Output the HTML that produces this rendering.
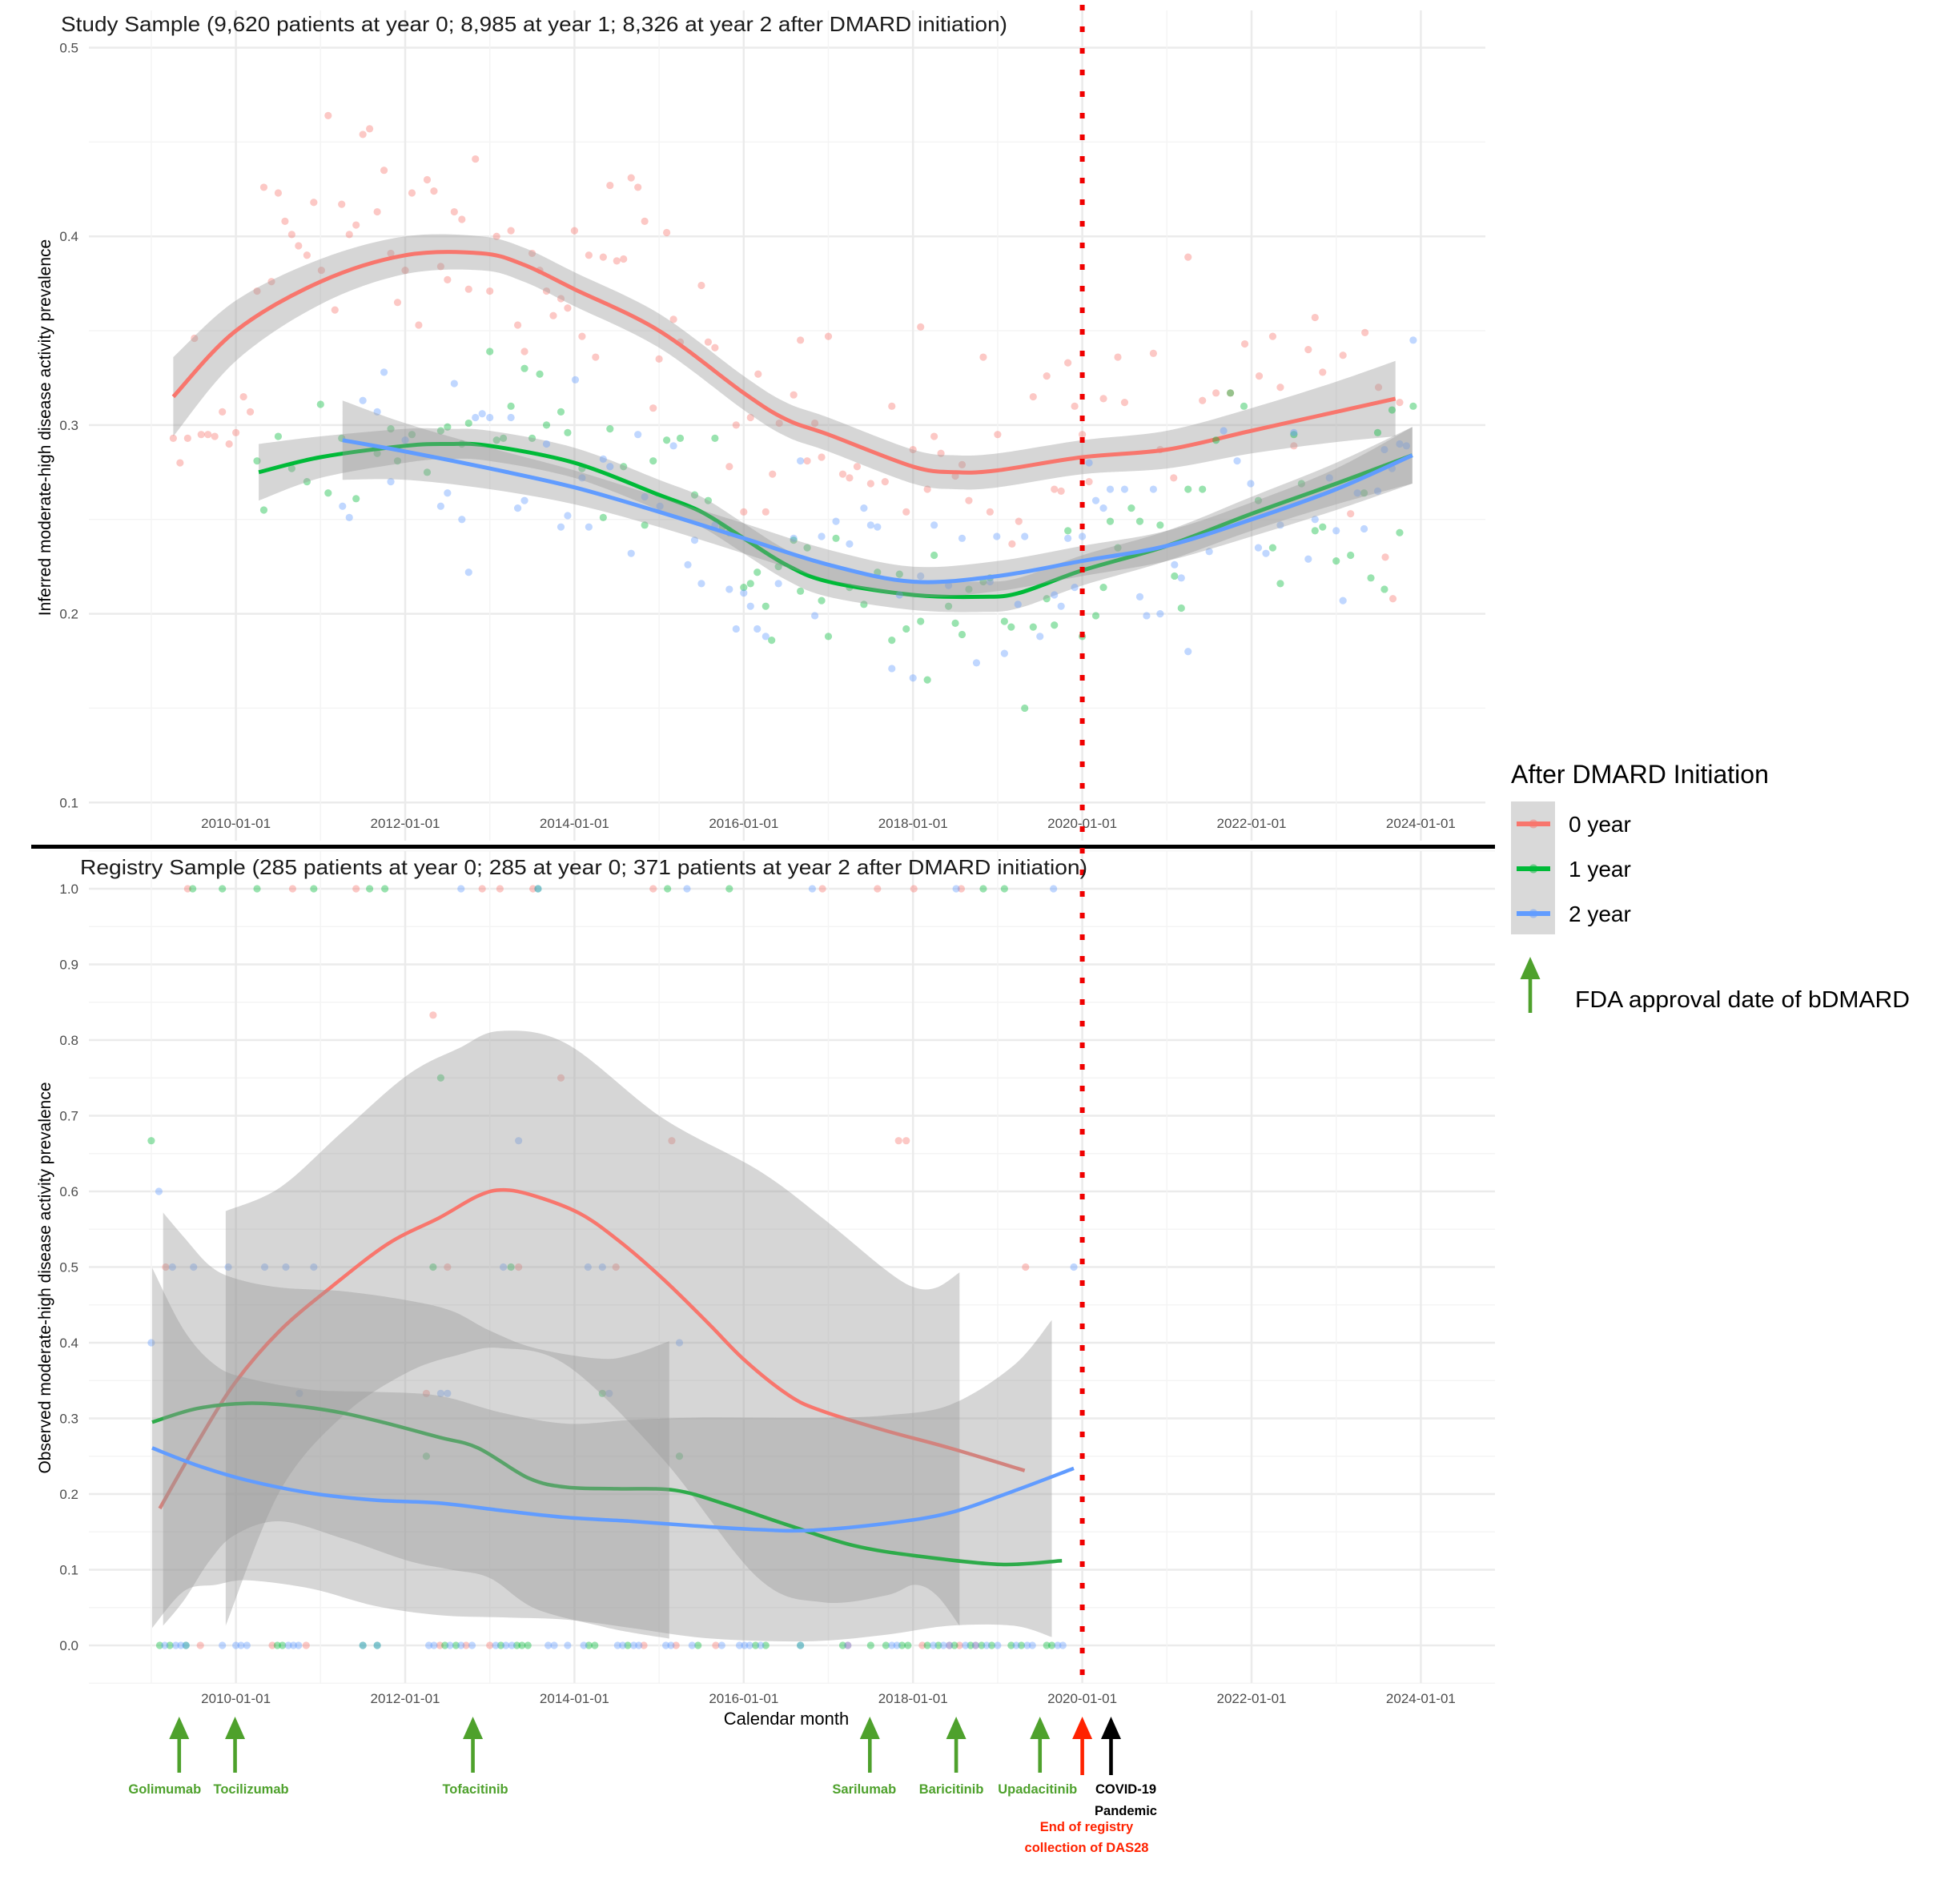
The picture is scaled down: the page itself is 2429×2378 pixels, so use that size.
<!DOCTYPE html>
<html><head><meta charset="utf-8">
<style>
html,body{margin:0;padding:0;background:#fff;}
svg{display:block;font-family:"Liberation Sans",Arial,sans-serif;}
</style></head>
<body>
<svg id="chart" width="2429" height="2378" viewBox="0 0 2429 2378" xmlns="http://www.w3.org/2000/svg"></svg>
<script>
// ---------- DATA ----------
const topTicksY = [0.1,0.2,0.3,0.4,0.5];
const xTickYears = [2010,2012,2014,2016,2018,2020,2022,2024];
const botTicksY = [0.0,0.1,0.2,0.3,0.4,0.5,0.6,0.7,0.8,0.9,1.0];

// top panel smooth fits [year, value]
const topRedFitYear = [2009.26,2010,2011,2012,2012.9,2013.4,2014,2015,2016,2016.5,2017,2018,2018.5,2019,2020,2021,2022,2023,2023.7];
const topRedFitVal  = [0.315,0.350,0.376,0.390,0.391,0.385,0.372,0.350,0.317,0.303,0.295,0.278,0.275,0.276,0.283,0.287,0.297,0.307,0.314];
const topRedFitSE   = [0.021,0.016,0.012,0.010,0.009,0.009,0.009,0.009,0.009,0.009,0.009,0.009,0.009,0.009,0.009,0.010,0.012,0.016,0.020];
const topGreenFitYear = [2010.27,2011,2012,2012.5,2013,2014,2015,2015.5,2016,2016.5,2017,2018,2018.8,2019.25,2020,2021,2022,2023,2023.9];
const topGreenFitVal  = [0.275,0.283,0.289,0.290,0.289,0.280,0.263,0.254,0.240,0.226,0.217,0.210,0.209,0.211,0.223,0.236,0.253,0.269,0.284];
const topGreenFitSE   = [0.015,0.011,0.009,0.008,0.008,0.008,0.008,0.008,0.008,0.008,0.008,0.008,0.008,0.008,0.008,0.008,0.009,0.011,0.015];
const topBlueFitYear = [2011.26,2012,2013,2014,2015,2016,2017,2018,2019,2020,2021,2022,2023,2023.9];
const topBlueFitVal  = [0.292,0.286,0.277,0.267,0.254,0.240,0.226,0.217,0.220,0.228,0.236,0.250,0.266,0.284];
const topBlueFitSE   = [0.021,0.015,0.011,0.009,0.008,0.008,0.008,0.008,0.008,0.008,0.008,0.009,0.011,0.015];

// top panel monthly points [year, value]
const topRedPts = [[2009.26,0.293],[2009.34,0.280],[2009.43,0.293],[2009.51,0.346],[2009.59,0.295],[2009.67,0.295],[2009.75,0.294],[2009.84,0.307],[2009.92,0.290],[2010,0.296],[2010.09,0.315],[2010.17,0.307],[2010.25,0.371],[2010.33,0.426],[2010.42,0.376],[2010.5,0.423],[2010.58,0.408],[2010.66,0.401],[2010.74,0.395],[2010.84,0.390],[2010.92,0.418],[2011.01,0.382],[2011.09,0.464],[2011.17,0.361],[2011.25,0.417],[2011.34,0.401],[2011.42,0.406],[2011.5,0.454],[2011.58,0.457],[2011.67,0.413],[2011.75,0.435],[2011.83,0.391],[2011.91,0.365],[2012,0.382],[2012.08,0.423],[2012.16,0.353],[2012.26,0.430],[2012.34,0.424],[2012.42,0.384],[2012.5,0.377],[2012.58,0.413],[2012.67,0.409],[2012.75,0.372],[2012.83,0.441],[2013,0.371],[2013.08,0.400],[2013.25,0.403],[2013.33,0.353],[2013.41,0.339],[2013.5,0.391],[2013.59,0.382],[2013.67,0.371],[2013.75,0.358],[2013.84,0.367],[2013.92,0.362],[2014,0.403],[2014.09,0.347],[2014.17,0.390],[2014.25,0.336],[2014.34,0.389],[2014.42,0.427],[2014.5,0.387],[2014.58,0.388],[2014.67,0.431],[2014.75,0.426],[2014.83,0.408],[2014.93,0.309],[2015,0.335],[2015.09,0.402],[2015.17,0.356],[2015.25,0.344],[2015.5,0.374],[2015.58,0.344],[2015.66,0.341],[2015.83,0.278],[2015.91,0.300],[2016,0.254],[2016.08,0.304],[2016.17,0.327],[2016.26,0.254],[2016.34,0.274],[2016.42,0.301],[2016.59,0.316],[2016.67,0.345],[2016.75,0.281],[2016.84,0.301],[2016.92,0.283],[2017,0.347],[2017.17,0.274],[2017.25,0.272],[2017.34,0.278],[2017.5,0.269],[2017.67,0.270],[2017.75,0.310],[2017.92,0.254],[2018,0.287],[2018.09,0.352],[2018.17,0.266],[2018.25,0.294],[2018.33,0.285],[2018.5,0.273],[2018.58,0.279],[2018.66,0.260],[2018.83,0.336],[2018.91,0.254],[2019,0.295],[2019.17,0.237],[2019.25,0.249],[2019.42,0.315],[2019.58,0.326],[2019.67,0.266],[2019.75,0.265],[2019.83,0.333],[2019.91,0.310],[2020,0.295],[2020.08,0.270],[2020.25,0.314],[2020.42,0.336],[2020.5,0.312],[2020.84,0.338],[2020.92,0.287],[2021.08,0.272],[2021.25,0.389],[2021.42,0.313],[2021.58,0.317],[2021.75,0.317],[2021.92,0.343],[2022.09,0.326],[2022.25,0.347],[2022.34,0.320],[2022.5,0.289],[2022.67,0.340],[2022.75,0.357],[2022.84,0.328],[2023.08,0.337],[2023.17,0.253],[2023.34,0.349],[2023.5,0.320],[2023.58,0.230],[2023.67,0.208],[2023.75,0.312]];
const topGreenPts = [[2010.25,0.281],[2010.33,0.255],[2010.50,0.294],[2010.66,0.277],[2010.84,0.270],[2011.00,0.311],[2011.09,0.264],[2011.25,0.293],[2011.42,0.261],[2011.67,0.285],[2011.83,0.298],[2011.91,0.281],[2012.08,0.295],[2012.26,0.275],[2012.42,0.297],[2012.50,0.299],[2012.67,0.290],[2012.75,0.301],[2013.00,0.339],[2013.08,0.292],[2013.16,0.293],[2013.25,0.310],[2013.41,0.330],[2013.50,0.293],[2013.59,0.327],[2013.67,0.300],[2013.84,0.307],[2013.92,0.296],[2014.09,0.277],[2014.34,0.251],[2014.42,0.298],[2014.58,0.278],[2014.83,0.247],[2014.93,0.281],[2015.09,0.292],[2015.25,0.293],[2015.42,0.263],[2015.58,0.260],[2015.66,0.293],[2015.75,0.246],[2015.83,0.243],[2016.00,0.214],[2016.08,0.216],[2016.16,0.222],[2016.26,0.204],[2016.33,0.186],[2016.41,0.225],[2016.59,0.239],[2016.67,0.212],[2016.75,0.235],[2016.92,0.207],[2017.00,0.188],[2017.09,0.240],[2017.25,0.214],[2017.42,0.205],[2017.58,0.222],[2017.75,0.186],[2017.84,0.221],[2017.92,0.192],[2018.09,0.196],[2018.17,0.165],[2018.25,0.231],[2018.42,0.204],[2018.50,0.195],[2018.58,0.189],[2018.66,0.213],[2018.83,0.217],[2018.91,0.219],[2019.08,0.196],[2019.16,0.193],[2019.32,0.150],[2019.42,0.193],[2019.58,0.208],[2019.67,0.194],[2019.83,0.244],[2020.00,0.188],[2020.16,0.199],[2020.25,0.214],[2020.33,0.249],[2020.42,0.235],[2020.58,0.256],[2020.68,0.249],[2020.92,0.247],[2021.09,0.220],[2021.17,0.203],[2021.25,0.266],[2021.42,0.266],[2021.58,0.292],[2021.75,0.317],[2021.91,0.310],[2022.08,0.260],[2022.25,0.235],[2022.34,0.216],[2022.50,0.295],[2022.59,0.269],[2022.75,0.244],[2022.84,0.246],[2023.00,0.228],[2023.17,0.231],[2023.33,0.264],[2023.41,0.219],[2023.49,0.296],[2023.57,0.213],[2023.66,0.308],[2023.75,0.243],[2023.91,0.310]];
const topBluePts = [[2011.26,0.257],[2011.34,0.251],[2011.50,0.313],[2011.67,0.307],[2011.75,0.328],[2011.83,0.270],[2012.00,0.292],[2012.42,0.257],[2012.50,0.264],[2012.58,0.322],[2012.67,0.250],[2012.75,0.222],[2012.83,0.304],[2012.91,0.306],[2013.00,0.304],[2013.25,0.304],[2013.33,0.256],[2013.41,0.260],[2013.67,0.290],[2013.84,0.246],[2013.92,0.252],[2014.01,0.324],[2014.09,0.272],[2014.17,0.246],[2014.34,0.282],[2014.42,0.278],[2014.67,0.232],[2014.75,0.295],[2014.83,0.262],[2015.01,0.257],[2015.17,0.289],[2015.34,0.226],[2015.42,0.239],[2015.50,0.216],[2015.66,0.247],[2015.83,0.213],[2015.91,0.192],[2016.00,0.211],[2016.08,0.204],[2016.16,0.192],[2016.26,0.188],[2016.41,0.216],[2016.59,0.240],[2016.67,0.281],[2016.84,0.199],[2016.92,0.241],[2017.09,0.249],[2017.25,0.237],[2017.42,0.256],[2017.50,0.247],[2017.58,0.246],[2017.75,0.171],[2017.84,0.210],[2018.00,0.166],[2018.09,0.220],[2018.25,0.247],[2018.42,0.215],[2018.58,0.240],[2018.75,0.174],[2018.91,0.217],[2018.99,0.241],[2019.08,0.179],[2019.24,0.205],[2019.32,0.241],[2019.50,0.188],[2019.67,0.210],[2019.75,0.204],[2019.83,0.240],[2019.91,0.214],[2020.00,0.241],[2020.08,0.280],[2020.16,0.260],[2020.25,0.256],[2020.33,0.266],[2020.50,0.266],[2020.68,0.209],[2020.76,0.199],[2020.84,0.266],[2020.92,0.200],[2021.09,0.226],[2021.17,0.219],[2021.25,0.180],[2021.50,0.233],[2021.67,0.297],[2021.83,0.281],[2021.99,0.269],[2022.08,0.235],[2022.17,0.232],[2022.34,0.247],[2022.50,0.296],[2022.67,0.229],[2022.75,0.250],[2022.92,0.272],[2023.00,0.244],[2023.08,0.207],[2023.25,0.264],[2023.33,0.245],[2023.49,0.265],[2023.57,0.287],[2023.66,0.277],[2023.75,0.290],[2023.83,0.289],[2023.91,0.345]];

// bottom panel smooth fits
const botRedFitYear = [2009.10,2009.54,2009.99,2010.52,2011.12,2011.80,2012.40,2012.86,2013.16,2013.53,2014.06,2014.51,2015.04,2015.57,2016.02,2016.54,2016.92,2017.67,2018.43,2019.32];
const botRedFitVal  = [0.181,0.267,0.347,0.416,0.473,0.531,0.565,0.594,0.602,0.594,0.571,0.536,0.485,0.427,0.376,0.330,0.310,0.284,0.261,0.231];
const botGreenFitYear = [2009.01,2009.54,2010.14,2010.74,2011.27,2011.80,2012.40,2012.86,2013.46,2013.91,2014.51,2015.19,2015.80,2016.55,2017.30,2018.06,2019.04,2019.76];
const botGreenFitVal  = [0.295,0.313,0.320,0.316,0.307,0.293,0.275,0.261,0.221,0.209,0.207,0.205,0.186,0.158,0.132,0.118,0.107,0.112];
const botBlueFitYear = [2009.01,2009.54,2010.14,2010.90,2011.65,2012.40,2013.16,2013.91,2014.67,2015.42,2016.18,2016.78,2017.67,2018.43,2019.19,2019.90];
const botBlueFitVal  = [0.261,0.238,0.218,0.201,0.192,0.188,0.178,0.169,0.164,0.158,0.153,0.152,0.161,0.175,0.204,0.234];

// bottom panel confidence bands
const bandRedYear  = [2009.88,2010.52,2011.27,2012.03,2012.63,2013.12,2013.91,2015.04,2016.17,2016.93,2017.68,2018.02,2018.28,2018.55];
const bandRedUpper = [0.574,0.605,0.680,0.754,0.789,0.812,0.795,0.697,0.628,0.565,0.496,0.473,0.473,0.493];
const bandRedLower = [0.026,0.204,0.304,0.361,0.384,0.393,0.370,0.247,0.089,0.057,0.066,0.080,0.066,0.026];
const bandGreenYear  = [2009.01,2009.39,2009.76,2010.14,2010.89,2011.65,2012.40,2013.16,2013.91,2014.67,2015.42,2016.17,2016.93,2017.68,2018.44,2019.19,2019.64];
const bandGreenUpper = [0.499,0.416,0.370,0.353,0.338,0.335,0.330,0.307,0.293,0.298,0.301,0.301,0.301,0.304,0.318,0.370,0.430];
const bandGreenLower = [0.023,0.072,0.080,0.086,0.075,0.052,0.040,0.037,0.034,0.023,0.011,0.006,0.006,0.014,0.026,0.026,0.011];
const bandBlueYear  = [2009.14,2009.39,2009.69,2009.99,2010.52,2011.27,2012.03,2012.55,2013.00,2013.53,2014.29,2014.67,2015.12];
const bandBlueUpper = [0.572,0.539,0.502,0.485,0.473,0.468,0.456,0.442,0.416,0.393,0.379,0.384,0.402];
const bandBlueLower = [0.026,0.060,0.112,0.146,0.164,0.141,0.112,0.100,0.089,0.049,0.026,0.017,0.009];

// bottom panel points [year, value]
const botRedPts = [[2009.43,1],[2010.67,1],[2011.42,1],[2012.91,1],[2013.12,1],[2013.51,1],[2014.93,1],[2016.93,1],[2017.58,1],[2018.01,1],[2018.57,1],[2012.33,0.833],[2013.84,0.75],[2015.15,0.667],[2017.83,0.667],[2017.92,0.667],[2009.17,0.5],[2012.50,0.5],[2013.34,0.5],[2014.49,0.5],[2019.33,0.5],[2012.25,0.333],[2009.58,0],[2010.43,0],[2010.83,0],[2012.41,0],[2012.72,0],[2013.00,0],[2014.82,0],[2015.20,0],[2015.67,0],[2017.23,0],[2018.11,0],[2018.43,0],[2018.55,0],[2018.74,0]];
const botGreenPts = [[2009.49,1],[2009.84,1],[2010.25,1],[2010.92,1],[2011.58,1],[2011.76,1],[2013.57,1],[2015.10,1],[2015.83,1],[2018.83,1],[2019.08,1],[2012.42,0.75],[2009.0,0.667],[2012.33,0.5],[2013.25,0.5],[2014.33,0.333],[2012.25,0.25],[2015.24,0.25],[2009.10,0],[2009.22,0],[2009.41,0],[2010.49,0],[2010.55,0],[2011.50,0],[2011.67,0],[2012.47,0],[2012.60,0],[2013.13,0],[2013.32,0],[2013.38,0],[2013.45,0],[2014.17,0],[2014.24,0],[2014.63,0],[2015.46,0],[2016.14,0],[2016.26,0],[2016.67,0],[2017.17,0],[2017.50,0],[2017.68,0],[2017.87,0],[2017.94,0],[2018.17,0],[2018.30,0],[2018.49,0],[2018.68,0],[2018.81,0],[2018.93,0],[2019.16,0],[2019.28,0],[2019.58,0],[2019.64,0]];
const botBluePts = [[2012.66,1],[2013.57,1],[2015.33,1],[2016.81,1],[2018.51,1],[2019.66,1],[2013.34,0.667],[2009.09,0.6],[2009.25,0.5],[2009.50,0.5],[2009.91,0.5],[2010.34,0.5],[2010.59,0.5],[2010.92,0.5],[2013.16,0.5],[2014.16,0.5],[2014.33,0.5],[2019.90,0.5],[2009.0,0.4],[2015.24,0.4],[2010.75,0.333],[2012.42,0.333],[2012.50,0.333],[2014.41,0.333],[2009.16,0],[2009.29,0],[2009.35,0],[2009.41,0],[2009.84,0],[2010.0,0],[2010.06,0],[2010.13,0],[2010.62,0],[2010.68,0],[2010.74,0],[2011.50,0],[2011.67,0],[2012.28,0],[2012.34,0],[2012.53,0],[2012.66,0],[2012.79,0],[2013.07,0],[2013.19,0],[2013.26,0],[2013.69,0],[2013.76,0],[2013.92,0],[2014.11,0],[2014.51,0],[2014.57,0],[2014.70,0],[2014.76,0],[2015.08,0],[2015.14,0],[2015.39,0],[2015.74,0],[2015.95,0],[2016.01,0],[2016.07,0],[2016.20,0],[2016.67,0],[2017.23,0],[2017.75,0],[2017.81,0],[2018.24,0],[2018.36,0],[2018.43,0],[2018.62,0],[2018.74,0],[2018.87,0],[2019.00,0],[2019.22,0],[2019.35,0],[2019.41,0],[2019.71,0],[2019.77,0]];

// FDA approvals
const drugNames = ["Golimumab","Tocilizumab","Tofacitinib","Sarilumab","Baricitinib","Upadacitinib"];
const drugYears = [2009.33,2009.99,2012.80,2017.49,2018.51,2019.50];
const registryEndYear = 2020.0;
const covidYear = 2020.33;

// ---------- SCALES ----------
const X0 = 294.6, XPY = 105.7;
const x = yr => X0 + (yr - 2010) * XPY;
const yT = v => 59.5 + (0.5 - v) * 2357;
const yB = v => 1110 + (1 - v) * 945;
const RED = "#F8766D", GREEN = "#00BA38", BLUE = "#619CFF";
const svg = document.getElementById('chart');
const NS = "http://www.w3.org/2000/svg";
function mk(tag, parent){ const e = document.createElementNS(NS, tag); (parent||svg).appendChild(e); return e; }
function segs(p){ let d=''; for(let i=0;i<p.length-1;i++){ const p0=p[i-1]||p[i], p1=p[i], p2=p[i+1], p3=p[i+2]||p2;
  d += ` C${(p1[0]+(p2[0]-p0[0])/6).toFixed(1)},${(p1[1]+(p2[1]-p0[1])/6).toFixed(1)} ${(p2[0]-(p3[0]-p1[0])/6).toFixed(1)},${(p2[1]-(p3[1]-p1[1])/6).toFixed(1)} ${p2[0].toFixed(1)},${p2[1].toFixed(1)}`; } return d; }
function smooth(p){ return `M${p[0][0].toFixed(1)},${p[0][1].toFixed(1)}` + segs(p); }
function band(up, lo){ const l = lo.slice().reverse(); return smooth(up) + ` L${l[0][0].toFixed(1)},${l[0][1].toFixed(1)}` + segs(l) + ' Z'; }

// ---------- GRID ----------
const gTop = mk('g');


for (let v=0.1; v<=0.5001; v+=0.05){
  const major = Math.abs(v*10-Math.round(v*10))<0.01;
  const l = mk('line', gTop);
  
  
  l.setAttribute('x1',111); l.setAttribute('x2',1855); l.setAttribute('y1',yT(v)); l.setAttribute('y2',yT(v));
  l.setAttribute('stroke', major ? '#ebebeb' : '#f4f4f4'); l.setAttribute('stroke-width', major ? 2.5 : 1.4);
}
for (let yr=2009; yr<=2024; yr++){
  const major = yr%2===0;
  const l = mk('line', gTop);
  
  
  l.setAttribute('x1',x(yr)); l.setAttribute('x2',x(yr)); l.setAttribute('y1',13); l.setAttribute('y2',1050);
  l.setAttribute('stroke', major ? '#ebebeb' : '#f4f4f4'); l.setAttribute('stroke-width', major ? 2.5 : 1.4);
}
const gBot = mk('g');


for (let v=-0.05; v<=1.0501; v+=0.05){
  const major = Math.abs(v*10-Math.round(v*10))<0.01 && v>-0.01 && v<1.01;
  const l = mk('line', gBot);
  
  
  l.setAttribute('x1',111); l.setAttribute('x2',1867); l.setAttribute('y1',yB(v)); l.setAttribute('y2',yB(v));
  l.setAttribute('stroke', major ? '#ebebeb' : '#f4f4f4'); l.setAttribute('stroke-width', major ? 2.5 : 1.4);
}
for (let yr=2009; yr<=2024; yr++){
  const major = yr%2===0;
  const l = mk('line', gBot);
  
  
  l.setAttribute('x1',x(yr)); l.setAttribute('x2',x(yr)); l.setAttribute('y1',1063); l.setAttribute('y2',2102);
  l.setAttribute('stroke', major ? '#ebebeb' : '#f4f4f4'); l.setAttribute('stroke-width', major ? 2.5 : 1.4);
}

// ---------- TICK LABELS ----------
topTicksY.forEach(v=>{
  const t = mk('text');
  
  
  t.setAttribute('x',98); t.setAttribute('y',yT(v)+6); t.setAttribute('text-anchor','end');
  t.setAttribute('font-size',17); t.setAttribute('fill','#4d4d4d'); t.textContent = v.toFixed(1);
});
botTicksY.forEach(v=>{
  const t = mk('text');
  
  
  t.setAttribute('x',98); t.setAttribute('y',yB(v)+6); t.setAttribute('text-anchor','end');
  t.setAttribute('font-size',17); t.setAttribute('fill','#4d4d4d'); t.textContent = v.toFixed(1);
});
xTickYears.forEach(yr=>{
  const t = mk('text');
  
  
  t.setAttribute('x',x(yr)); t.setAttribute('y',1034); t.setAttribute('text-anchor','middle');
  t.setAttribute('font-size',17); t.setAttribute('fill','#4d4d4d'); t.textContent = yr+'-01-01';
  const b = mk('text');
  
  
  b.setAttribute('x',x(yr)); b.setAttribute('y',2127); b.setAttribute('text-anchor','middle');
  b.setAttribute('font-size',17); b.setAttribute('fill','#4d4d4d'); b.textContent = yr+'-01-01';
});

// ---------- TOP PANEL SERIES ----------
function topSeries(name, yrs, vals, se, pts, col){
  const g = mk('g');
  
  
  pts.forEach(p=>{
    const c = mk('circle', g);
    
    
    c.setAttribute('cx',x(p[0])); c.setAttribute('cy',yT(p[1])); c.setAttribute('r',4.6);
    c.setAttribute('fill',col); c.setAttribute('fill-opacity',0.4);
  });
  const up = yrs.map((yr,i)=>[x(yr), yT(vals[i]+se[i])]);
  const lo = yrs.map((yr,i)=>[x(yr), yT(vals[i]-se[i])]);
  const r = mk('path', g);
  
  
  r.setAttribute('d', band(up, lo)); r.setAttribute('fill','#999999'); r.setAttribute('fill-opacity',0.4);
  const l = mk('path', g);
  
  
  l.setAttribute('d', smooth(yrs.map((yr,i)=>[x(yr), yT(vals[i])])));
  l.setAttribute('fill','none'); l.setAttribute('stroke',col); l.setAttribute('stroke-width',5);
}
topSeries('0-year', topRedFitYear, topRedFitVal, topRedFitSE, topRedPts, RED);
topSeries('1-year', topGreenFitYear, topGreenFitVal, topGreenFitSE, topGreenPts, GREEN);
topSeries('2-year', topBlueFitYear, topBlueFitVal, topBlueFitSE, topBluePts, BLUE);

// ---------- BOTTOM PANEL SERIES ----------
function botPoints(name, pts, col){
  const g = mk('g');
  
  
  pts.forEach(p=>{
    const c = mk('circle', g);
    
    
    c.setAttribute('cx',x(p[0])); c.setAttribute('cy',yB(p[1])); c.setAttribute('r',4.6);
    c.setAttribute('fill',col); c.setAttribute('fill-opacity',0.4);
  });
}
function botBand(name, yrs, upv, lov){
  const up = yrs.map((yr,i)=>[x(yr), yB(upv[i])]);
  const lo = yrs.map((yr,i)=>[x(yr), yB(lov[i])]);
  const r = mk('path');
  
  
  r.setAttribute('d', band(up, lo)); r.setAttribute('fill','#999999'); r.setAttribute('fill-opacity',0.4);
}
function botLine(name, yrs, vals, col){
  const l = mk('path');
  
  
  l.setAttribute('d', smooth(yrs.map((yr,i)=>[x(yr), yB(vals[i])])));
  l.setAttribute('fill','none'); l.setAttribute('stroke',col); l.setAttribute('stroke-width',4.5);
}
botPoints('0-year', botRedPts, RED);
botPoints('1-year', botGreenPts, GREEN);
botPoints('2-year', botBluePts, BLUE);
botBand('0-year', bandRedYear, bandRedUpper, bandRedLower);
botLine('0-year', botRedFitYear, botRedFitVal, RED);
botBand('1-year', bandGreenYear, bandGreenUpper, bandGreenLower);
botLine('1-year', botGreenFitYear, botGreenFitVal, '#2eab4a');
botBand('2-year', bandBlueYear, bandBlueUpper, bandBlueLower);
botLine('2-year', botBlueFitYear, botBlueFitVal, BLUE);

// ---------- SEPARATOR & REFERENCE LINE ----------
const sep = mk('rect');


sep.setAttribute('x',39); sep.setAttribute('y',1055); sep.setAttribute('width',1828); sep.setAttribute('height',5); sep.setAttribute('fill','#000');

const ref = mk('line');


ref.setAttribute('x1',x(registryEndYear)); ref.setAttribute('x2',x(registryEndYear)); ref.setAttribute('y1',6); ref.setAttribute('y2',2104);
ref.setAttribute('stroke','#f00000'); ref.setAttribute('stroke-width',6); ref.setAttribute('stroke-dasharray','7 20');

// ---------- TITLES ----------
const t1 = mk('text');


t1.setAttribute('x',76); t1.setAttribute('y',39); t1.setAttribute('font-size',26); t1.setAttribute('fill','#1a1a1a');
t1.setAttribute('textLength',1182); t1.setAttribute('lengthAdjust','spacingAndGlyphs');
t1.textContent = 'Study Sample (9,620 patients at year 0; 8,985 at year 1; 8,326 at year 2 after DMARD initiation)';
const t2 = mk('text');


t2.setAttribute('x',100); t2.setAttribute('y',1092); t2.setAttribute('font-size',26); t2.setAttribute('fill','#1a1a1a');
t2.setAttribute('textLength',1258); t2.setAttribute('lengthAdjust','spacingAndGlyphs');
t2.textContent = 'Registry Sample (285 patients at year 0; 285 at year 0; 371 patients at year 2 after DMARD initiation)';

const ya1 = mk('text');


ya1.setAttribute('transform','translate(63,534) rotate(-90)'); ya1.setAttribute('text-anchor','middle');
ya1.setAttribute('font-size',21); ya1.setAttribute('fill','#000');
ya1.textContent = 'Inferred moderate-high disease activity prevalence';
const ya2 = mk('text');


ya2.setAttribute('transform','translate(63,1596) rotate(-90)'); ya2.setAttribute('text-anchor','middle');
ya2.setAttribute('font-size',21); ya2.setAttribute('fill','#000');
ya2.textContent = 'Observed moderate-high disease activity prevalence';
const xa = mk('text');


xa.setAttribute('x',982); xa.setAttribute('y',2154); xa.setAttribute('text-anchor','middle');
xa.setAttribute('font-size',22); xa.setAttribute('fill','#000'); xa.textContent = 'Calendar month';

// ---------- ANNOTATION ARROWS ----------
function arrow(name, cx, col, top, bottom){
  const g = mk('g');
  
  
  const s = mk('rect', g);
  
  
  s.setAttribute('x',cx-2.3); s.setAttribute('y',top+20); s.setAttribute('width',4.6); s.setAttribute('height',bottom-top-20); s.setAttribute('fill',col);
  const h = mk('polygon', g);
  
  
  h.setAttribute('points', `${cx},${top} ${cx-12.5},${top+28} ${cx+12.5},${top+28}`); h.setAttribute('fill',col);
}
function label(name, txt, cx, cy, col){
  const t = mk('text');
  
  
  t.setAttribute('x',cx); t.setAttribute('y',cy); t.setAttribute('text-anchor','middle');
  t.setAttribute('font-size',16.5); t.setAttribute('font-weight','bold'); t.setAttribute('fill',col);
  t.textContent = txt;
}
const labelOffsets = [-18,20,3,-7,-6,-3];
drugNames.forEach((nm,i)=>{
  arrow('fda-arrow-'+nm.toLowerCase(), x(drugYears[i]), '#4ea12c', 2144, 2214);
  label('fda-label-'+nm.toLowerCase(), nm, x(drugYears[i])+labelOffsets[i], 2240, '#4ea12c');
});
arrow('registry-end-arrow', x(registryEndYear), '#ff2200', 2144, 2217);
arrow('covid-arrow', x(covidYear)+1, '#000000', 2144, 2217);
label('covid-label-line1', 'COVID-19', 1406, 2240, '#000');
label('covid-label-line2', 'Pandemic', 1406, 2267, '#000');
label('registry-end-label-line1', 'End of registry', 1357, 2287, '#ff2200');
label('registry-end-label-line2', 'collection of DAS28', 1357, 2313, '#ff2200');

// ---------- LEGEND ----------
const lg = mk('g');


const lt = mk('text', lg);


lt.setAttribute('x',1887); lt.setAttribute('y',978); lt.setAttribute('font-size',32); lt.setAttribute('fill','#000');
lt.textContent = 'After DMARD Initiation';
const lb = mk('rect', lg);


lb.setAttribute('x',1887); lb.setAttribute('y',1001); lb.setAttribute('width',55); lb.setAttribute('height',166); lb.setAttribute('fill','#d9d9d9');
const legendLabels = ['0 year','1 year','2 year'];
const legendCols = [RED, GREEN, BLUE];
legendLabels.forEach((lab,i)=>{
  const cy = 1029 + i*56;
  const k = mk('line', lg);
  
  
  k.setAttribute('x1',1894); k.setAttribute('x2',1936); k.setAttribute('y1',cy); k.setAttribute('y2',cy);
  k.setAttribute('stroke',legendCols[i]); k.setAttribute('stroke-width',6);
  const d = mk('circle', lg);
  
  
  d.setAttribute('cx',1915); d.setAttribute('cy',cy); d.setAttribute('r',5.5); d.setAttribute('fill',legendCols[i]); d.setAttribute('fill-opacity',0.5);
  const t = mk('text', lg);
  
  
  t.setAttribute('x',1959); t.setAttribute('y',cy+10); t.setAttribute('font-size',28); t.setAttribute('fill','#000');
  t.textContent = lab;
});
arrow('legend-fda-arrow', 1911, '#4ea12c', 1195, 1265);
const ft = mk('text', lg);


ft.setAttribute('x',1967); ft.setAttribute('y',1258); ft.setAttribute('font-size',29); ft.setAttribute('fill','#000');
ft.setAttribute('textLength',418); ft.setAttribute('lengthAdjust','spacingAndGlyphs');
ft.textContent = 'FDA approval date of bDMARD';
</script>
</body></html>
